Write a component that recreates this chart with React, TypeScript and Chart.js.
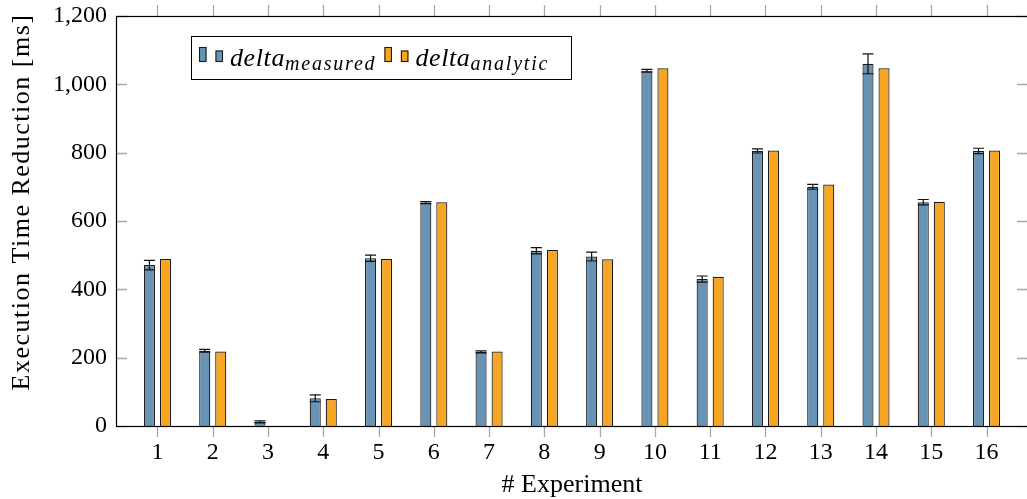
import React, { useEffect, useRef } from 'react';
import { Chart, registerables } from 'chart.js';

Chart.register(...registerables);

// ---- data ----
const categories = ['1', '2', '3', '4', '5', '6', '7', '8', '9', '10', '11', '12', '13', '14', '15', '16'];
const measured = [471, 220, 12, 81, 491, 654, 217, 513, 496, 1040, 430, 805, 700, 1060, 655, 805];
const measuredError = [14, 4, 3, 10, 9, 3, 3, 9, 13, 4, 9, 6, 7, 29, 8, 8];
const analytic = [489, 218, 0, 79, 489, 655, 218, 515, 488, 1047, 437, 806, 707, 1047, 656, 806];
const yTicks = [0, 200, 400, 600, 800, 1000, 1200];
const seriesMain = ['delta', 'delta'];
const seriesSub = ['measured', 'analytic'];
const xTitle = '# Experiment';
const yTitle = 'Execution Time Reduction [ms]';

const BLUE = '#6793b4';
const ORANGE = '#f6a623';
const EDGE = '#1c1c1c';
const TICK_GRAY = '#a8a8a8';
const FONT = '"Liberation Serif", "Times New Roman", serif';

const decorPlugin = {
  id: 'decor',
  afterDatasetsDraw(chart: any) {
    const ctx = chart.ctx;
    const ys = chart.scales.y;
    const meta = chart.getDatasetMeta(0);
    ctx.save();
    ctx.strokeStyle = '#111';
    ctx.lineWidth = 1.2;
    meta.data.forEach((el: any, i: number) => {
      const v = measured[i];
      const e = measuredError[i];
      const yHi = ys.getPixelForValue(v + e);
      const yLo = ys.getPixelForValue(Math.max(0, v - e));
      const hw = el.width / 2;
      ctx.beginPath();
      ctx.moveTo(el.x, yHi);
      ctx.lineTo(el.x, yLo);
      ctx.moveTo(el.x - hw, yHi);
      ctx.lineTo(el.x + hw, yHi);
      ctx.moveTo(el.x - hw, yLo);
      ctx.lineTo(el.x + hw, yLo);
      ctx.stroke();
    });
    ctx.restore();
  },
  afterDraw(chart: any) {
    const ctx = chart.ctx;
    const { left, right, top, bottom } = chart.chartArea;
    const xs = chart.scales.x;
    const ys = chart.scales.y;
    ctx.save();
    // tick marks
    ctx.strokeStyle = TICK_GRAY;
    ctx.lineWidth = 1.3;
    ctx.beginPath();
    ys.ticks.forEach((t: any) => {
      const p = Math.round(ys.getPixelForValue(t.value)) + 0.5;
      ctx.moveTo(left, p);
      ctx.lineTo(left + 11, p);
      ctx.moveTo(right - 11, p);
      ctx.lineTo(right, p);
    });
    xs.ticks.forEach((t: any) => {
      const p = Math.round(xs.getPixelForValue(t.value)) + 0.5;
      ctx.moveTo(p, top - 11);
      ctx.lineTo(p, top);
      ctx.moveTo(p, bottom);
      ctx.lineTo(p, bottom + 11);
    });
    ctx.stroke();
    // frame
    ctx.strokeStyle = '#000';
    ctx.lineWidth = 1.2;
    ctx.strokeRect(Math.round(left) + 0.5, Math.round(top) + 0.5, Math.round(right - left), Math.round(bottom - top));

    // y title
    ctx.fillStyle = '#000';
    ctx.font = `26px ${FONT}`;
    (ctx as any).letterSpacing = '1.5px';
    ctx.textAlign = 'center';
    ctx.textBaseline = 'middle';
    ctx.translate(22, (top + bottom) / 2 - 19);
    ctx.rotate(-Math.PI / 2);
    ctx.fillText(yTitle, 0, 0);
    ctx.restore();

    // legend
    ctx.save();
    const lx = left + 75;
    const ly = top + 20;
    const lw = 380;
    const lh = 43;
    ctx.fillStyle = '#fff';
    ctx.fillRect(lx, ly, lw, lh);
    ctx.strokeStyle = '#000';
    ctx.lineWidth = 1;
    ctx.strokeRect(lx + 0.5, ly + 0.5, lw, lh);
    const colors = [BLUE, ORANGE];
    let x = lx + 8;
    const base = ly + 26;
    const patch = (px: number, h: number, c: string) => {
      ctx.fillStyle = c;
      ctx.fillRect(px, base - h, 7.5, h);
      ctx.strokeStyle = EDGE;
      ctx.lineWidth = 1.1;
      ctx.strokeRect(px + 0.5, base - h + 0.5, 6.5, h - 1);
    };
    colors.forEach((c, k) => {
      patch(x, 15, c);
      x += 16.5;
      patch(x, 11.5, c);
      x += 14.5;
      ctx.fillStyle = '#000';
      ctx.textAlign = 'left';
      ctx.textBaseline = 'alphabetic';
      ctx.font = `italic 26px ${FONT}`;
      (ctx as any).letterSpacing = '0.6px';
      ctx.fillText(seriesMain[k], x, ly + 30);
      x += ctx.measureText(seriesMain[k]).width;
      ctx.font = `italic 20px ${FONT}`;
      (ctx as any).letterSpacing = '1.8px';
      ctx.fillText(seriesSub[k], x, ly + 34);
      x += ctx.measureText(seriesSub[k]).width + 8;
    });
    ctx.restore();
  },
};

export default function App() {
  const ref = useRef<HTMLCanvasElement>(null);
  useEffect(() => {
    if (!ref.current) return;
    Chart.defaults.font.family = FONT;
    const chart = new Chart(ref.current, {
      type: 'bar',
      data: {
        datasets: [
          {
            label: 'delta_measured',
            data: measured.map((v, i) => ({ x: i + 1, y: v })),
            backgroundColor: BLUE,
            borderColor: EDGE,
            borderWidth: 1.2,
            categoryPercentage: 0.58,
            barPercentage: 0.69,
          },
          {
            label: 'delta_analytic',
            data: analytic.map((v, i) => ({ x: i + 1, y: v })),
            backgroundColor: ORANGE,
            borderColor: EDGE,
            borderWidth: 1.2,
            categoryPercentage: 0.58,
            barPercentage: 0.69,
          },
        ],
      } as any,
      options: {
        animation: false,
        responsive: false,
        devicePixelRatio: 1,
        layout: { padding: { top: 16, right: 2, left: 0, bottom: 0 } },
        plugins: { legend: { display: false }, tooltip: { enabled: false } },
        scales: {
          x: {
            type: 'linear',
            offset: false,
            min: 0.25,
            max: 16.75,
            grid: { display: false, drawTicks: false },
            border: { display: false },
            afterBuildTicks: (s: any) => {
              s.ticks = categories.map((_, i) => ({ value: i + 1 }));
            },
            afterFit: (s: any) => {
              s.height = 73;
              s.paddingLeft = 0;
              s.paddingRight = 0;
            },
            ticks: {
              padding: 12,
              color: '#000',
              autoSkip: false,
              maxRotation: 0,
              font: { size: 24 },
              callback: (v: any) => categories[Math.round(Number(v)) - 1] ?? '',
            },
            title: {
              display: true,
              text: xTitle,
              color: '#000',
              font: { size: 26 },
              padding: { top: 0, bottom: -2 },
            },
          },
          y: {
            min: 0,
            max: 1200,
            grid: { display: false, drawTicks: false },
            border: { display: false },
            afterBuildTicks: (s: any) => {
              s.ticks = yTicks.map((v) => ({ value: v }));
            },
            afterFit: (s: any) => {
              s.width = 116;
              s.paddingTop = 0;
              s.paddingBottom = 0;
            },
            ticks: {
              padding: 9,
              color: '#000',
              font: { size: 24 },
              callback: (v: any) => Number(v).toLocaleString('en-US'),
            },
          },
        },
      } as any,
      plugins: [decorPlugin],
    });
    return () => chart.destroy();
  }, []);
  return (
    <div
      style={{
        position: 'fixed',
        left: 0,
        top: 0,
        width: 1027,
        height: 499,
        overflow: 'hidden',
        background: '#fff',
      }}
    >
      <canvas ref={ref} width={1030} height={499} style={{ width: 1030, height: 499, display: 'block' }} />
    </div>
  );
}
